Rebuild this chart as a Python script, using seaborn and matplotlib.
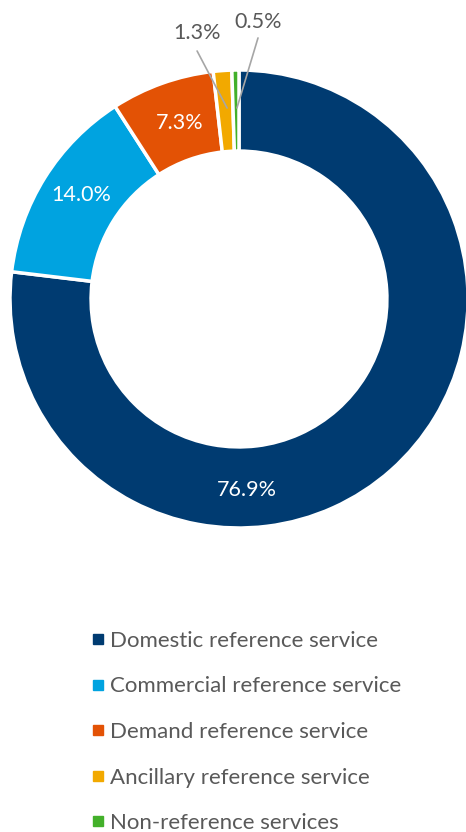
import matplotlib
matplotlib.use("Agg")
import matplotlib.pyplot as plt
from matplotlib.lines import Line2D
import seaborn as sns

categories = ["Domestic reference service", "Commercial reference service",
              "Demand reference service", "Ancillary reference service",
              "Non-reference services"]
shares = [76.9, 14.0, 7.3, 1.3, 0.5]
pct_labels = ["76.9%", "14.0%", "7.3%", "1.3%", "0.5%"]
colors = ["#003B71", "#00A3E0", "#E35205", "#F2A900", "#43B02A"]

sns.set_theme(style="white")
plt.rcParams["font.family"] = ["Lato", "DejaVu Sans"]

fig = plt.figure(figsize=(4.66, 8.32), dpi=100)
ax = fig.add_axes([10 / 466, 304 / 832, 458 / 466, 458 / 832])

wedges, _ = ax.pie(shares, colors=colors, startangle=90, counterclock=False,
                   radius=1.0,
                   wedgeprops=dict(width=0.354, edgecolor="white", linewidth=2.5))
ax.set_xlim(-1, 1)
ax.set_ylim(-1, 1)
ax.set_aspect("equal")
ax.axis("off")

label_pos = [(0.035, -0.834), (-0.69, 0.454), (-0.258, 0.769), (-0.183, 1.162), (0.083, 1.21)]
label_col = ["white", "white", "white", "#595959", "#595959"]
for lab, pos, c in zip(pct_labels, label_pos, label_col):
    ax.text(pos[0], pos[1], lab, ha="center", va="center", fontsize=15.5, color=c,
            clip_on=False)

# leader lines for small slices
leaders = [((-0.183, 1.083), (-0.052, 0.834)), ((0.083, 1.14), (-0.009, 0.834))]
for (p0, p1) in leaders:
    ax.plot([p0[0], p1[0]], [p0[1], p1[1]], color="#A6A6A6", lw=1.2, clip_on=False)

handles = [Line2D([0], [0], marker="s", linestyle="none", markersize=6.5,
                  markerfacecolor=c, markeredgecolor=c) for c in colors]
fig.legend(handles, categories, loc="upper left", bbox_to_anchor=(82 / 466, 1 - 622 / 832),
           frameon=False, fontsize=16, labelcolor="#595959", handlelength=0.6,
           handletextpad=0.25, labelspacing=1.15, borderaxespad=0)

fig.savefig("out.png", dpi=100, facecolor="white")
